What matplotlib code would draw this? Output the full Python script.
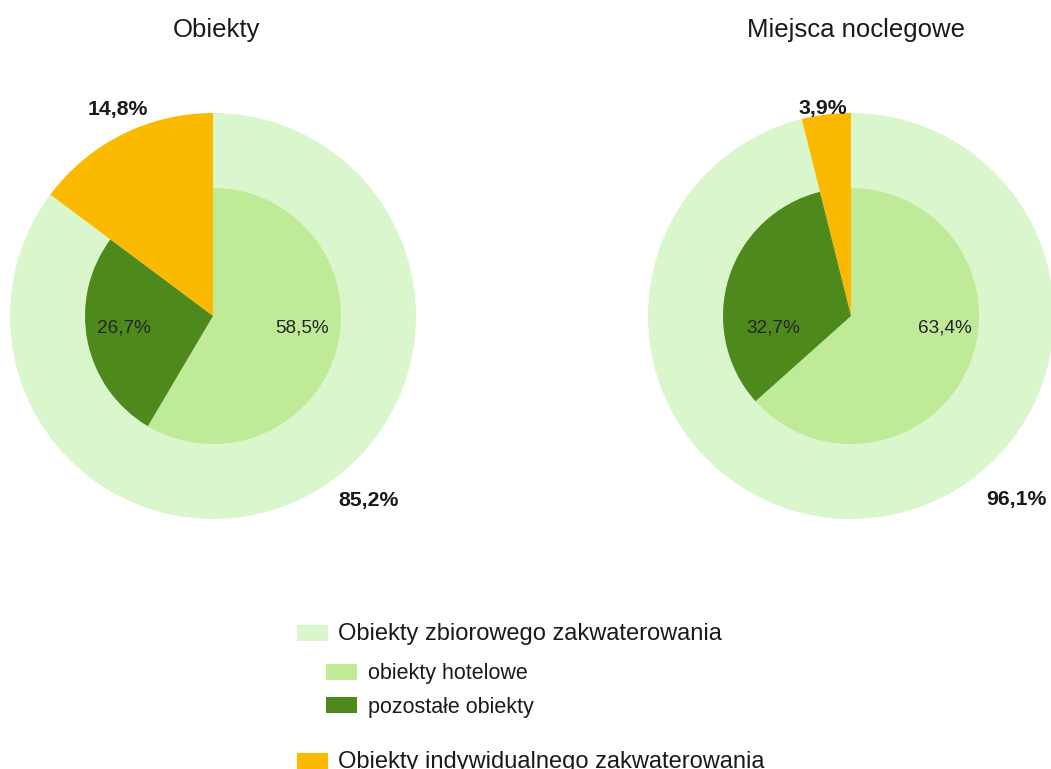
import matplotlib
matplotlib.use("Agg")
import matplotlib.pyplot as plt
from matplotlib.patches import Rectangle

plt.rcParams['font.family'] = ['Liberation Sans', 'DejaVu Sans']

# ---- data ----
titles = ["Obiekty", "Miejsca noclegowe"]
outer_categories = ["Obiekty zbiorowego zakwaterowania", "Obiekty indywidualnego zakwaterowania"]
inner_categories = ["obiekty hotelowe", "pozostałe obiekty"]
outer_obiekty = [85.2, 14.8]
inner_obiekty = [58.5, 26.7]
outer_miejsca = [96.1, 3.9]
inner_miejsca = [63.4, 32.7]

outer_sets = [outer_obiekty, outer_miejsca]
inner_sets = [inner_obiekty, inner_miejsca]

# ---- styles ----
C_ZB = "#d9f6cc"
C_HOT = "#bfea98"
C_POZ = "#4e891c"
C_IND = "#fbba00"

W, H = 1051, 769
fig = plt.figure(figsize=(W / 100, H / 100), dpi=100)
fig.patch.set_facecolor("white")

R_OUT = 203.0
R_IN = 128.0 / 203.0
centers = [(213, 316), (851, 316)]

# label offsets (pie data units)
outer_label_pos = [[(0.764, -0.935), (-0.468, 0.99)], [(0.813, -0.93), (-0.138, 0.995)]]
inner_label_pos = [[(0.438, -0.079), (-0.438, -0.079)], [(0.463, -0.079), (-0.384, -0.079)]]


def fmt(v):
    return f"{v:.1f}".replace(".", ",") + "%"


for i, (cx, cy) in enumerate(centers):
    left = (cx - R_OUT) / W
    bottom = (H - (cy + R_OUT)) / H
    ax = fig.add_axes([left, bottom, 2 * R_OUT / W, 2 * R_OUT / H])
    outer = outer_sets[i]
    inner = inner_sets[i]
    ax.pie(outer, colors=[C_ZB, C_IND], startangle=90, counterclock=False,
           radius=1.0, wedgeprops=dict(linewidth=0, antialiased=True))
    rest = 100 - sum(inner)
    ax.pie(inner + [rest], colors=[C_HOT, C_POZ, (0, 0, 0, 0)], startangle=90,
           counterclock=False, radius=R_IN, wedgeprops=dict(linewidth=0))
    ax.set_xlim(-1, 1)
    ax.set_ylim(-1, 1)
    ax.set_aspect("auto")
    ax.axis("off")
    for v, (x, y) in zip(outer, outer_label_pos[i]):
        ax.text(x, y, fmt(v), ha="center", va="baseline", fontsize=15.3,
                fontweight="bold", color="#1a1a1a")
    for v, (x, y) in zip(inner, inner_label_pos[i]):
        ax.text(x, y, fmt(v), ha="center", va="baseline", fontsize=13.7,
                color="#262626")

# overlay axes in pixel coordinates for titles and legend
ov = fig.add_axes([0, 0, 1, 1])
ov.set_xlim(0, W)
ov.set_ylim(H, 0)
ov.axis("off")

title_pos = [(216, 37), (856, 37)]
for t, (x, y) in zip(titles, title_pos):
    ov.text(x, y, t, ha="center", va="baseline", fontsize=18.5, color="#1a1a1a")

legend_items = [
    (outer_categories[0], C_ZB, 297, 625, 338, 640, 17),
    (inner_categories[0], C_HOT, 326, 664, 368, 679, 15.5),
    (inner_categories[1], C_POZ, 326, 697, 368, 713, 15.5),
    (outer_categories[1], C_IND, 297, 753, 338, 768, 17),
]
for label, col, rx, ry, tx, ty, fs in legend_items:
    ov.add_patch(Rectangle((rx, ry), 31, 16, facecolor=col, edgecolor="none"))
    ov.text(tx, ty, label, ha="left", va="baseline", fontsize=fs, color="#1a1a1a")

fig.savefig("out.png", dpi=100, facecolor="white")
